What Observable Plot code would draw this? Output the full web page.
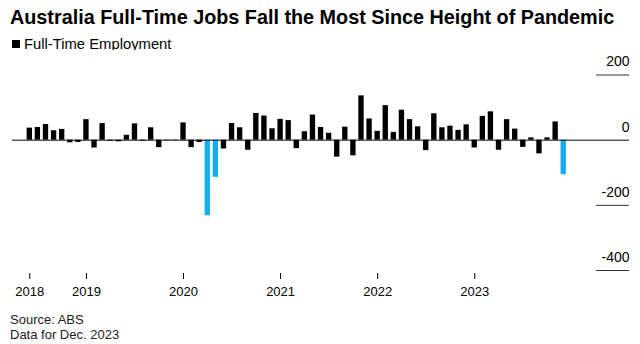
<!DOCTYPE html>
<html>
<head>
<meta charset="utf-8">
<script src="https://cdn.jsdelivr.net/npm/d3@7"></script>
<script src="https://cdn.jsdelivr.net/npm/@observablehq/plot@0.6"></script>
<style>
  html, body { margin: 0; padding: 0; background: #fff; }
  body { width: 640px; height: 344px; position: relative; overflow: hidden;
         font-family: "Liberation Sans", Arial, sans-serif; color: #000; }
  #title { position: absolute; left: 10px; top: 6px; font-size: 19.8px; font-weight: bold; white-space: nowrap; }
  #legend { position: absolute; left: 12px; top: 36px; font-size: 14.8px; white-space: nowrap; display: flex; align-items: center; }
  #legend .sw { width: 8px; height: 8px; background: #000; margin-right: 4px; }
  #chart { position: absolute; left: 0; top: 50px; }
  #source { position: absolute; left: 10px; top: 312px; font-size: 13px; line-height: 15px; color: #222; }
</style>
</head>
<body>
<div id="title">Australia Full-Time Jobs Fall the Most Since Height of Pandemic</div>
<div id="legend"><span class="sw"></span><span>Full-Time Employment</span></div>
<div id="chart"></div>
<div id="source">Source: ABS<br>Data for Dec. 2023</div>
<script>
// Months (Jun 2018 – Dec 2023)
const months = [
  "2018-06","2018-07","2018-08","2018-09","2018-10","2018-11","2018-12",
  "2019-01","2019-02","2019-03","2019-04","2019-05","2019-06","2019-07","2019-08","2019-09","2019-10","2019-11","2019-12",
  "2020-01","2020-02","2020-03","2020-04","2020-05","2020-06","2020-07","2020-08","2020-09","2020-10","2020-11","2020-12",
  "2021-01","2021-02","2021-03","2021-04","2021-05","2021-06","2021-07","2021-08","2021-09","2021-10","2021-11","2021-12",
  "2022-01","2022-02","2022-03","2022-04","2022-05","2022-06","2022-07","2022-08","2022-09","2022-10","2022-11","2022-12",
  "2023-01","2023-02","2023-03","2023-04","2023-05","2023-06","2023-07","2023-08","2023-09","2023-10","2023-11","2023-12"
];
// Monthly change in full-time employment (thousands)
const fullTimeChange = [
  37, 39, 48, 29, 33, -8, -7,
  63, -24, 51, -3, -5, 15, 50, -3, 38, -23, -1, 1,
  53, -23, -7, -232, -114, -27, 51, 38, -31, 82, 74, 35,
  64, 60, -26, 26, 77, 39, 21, -52, 40, -48, 136, 65,
  27, 106, 24, 92, 63, 41, -32, 81, 38, 43, 30, 47,
  -24, 73, 87, -31, 63, 34, -22, 7, -42, 7, 56, -106
];
const highlighted = ["2020-04", "2020-05", "2023-12"];
const yTicks = [200, 0, -200, -400];
const yGrid = [200, -200, -400];

const data = months.map((m, i) => ({i, month: m, value: fullTimeChange[i], hi: highlighted.includes(m)}));
const xTicks = months.map((m, i) => (i === 0 || m.endsWith("-01")) ? i : null).filter(d => d !== null);

const chart = Plot.plot({
  width: 640,
  height: 250,
  marginLeft: 12,
  marginRight: 11,
  marginTop: 24,
  marginBottom: 27,
  style: {fontFamily: "Liberation Sans, Arial, sans-serif", fontSize: "13px", color: "#000", background: "#fff"},
  x: {type: "linear", domain: [-2.14, 74.13], range: [12, 629], label: null},
  y: {domain: [-400, 200], range: [220, 24.5], label: null},
  marks: [
    Plot.rectY(data, {x1: d => d.i - 0.33, x2: d => d.i + 0.33, y: "value", fill: d => d.hi ? "#14acf2" : "#000"}),
    Plot.ruleY([0], {stroke: "#000", strokeWidth: 1}),
    Plot.ruleY(yGrid, {stroke: "#333", strokeWidth: 1, insetLeft: 584}),
    Plot.axisY({anchor: "right", ticks: yTicks, tickSize: 0, tickPadding: 0, textAnchor: "end", dy: -13, fontSize: 14, label: null, tickFormat: d => String(d)}),
    Plot.axisX({ticks: xTicks, tickSize: 6, tickPadding: 7, label: null, tickFormat: i => months[i].slice(0, 4)})
  ]
});
document.getElementById("chart").appendChild(chart);
</script>
</body>
</html>
